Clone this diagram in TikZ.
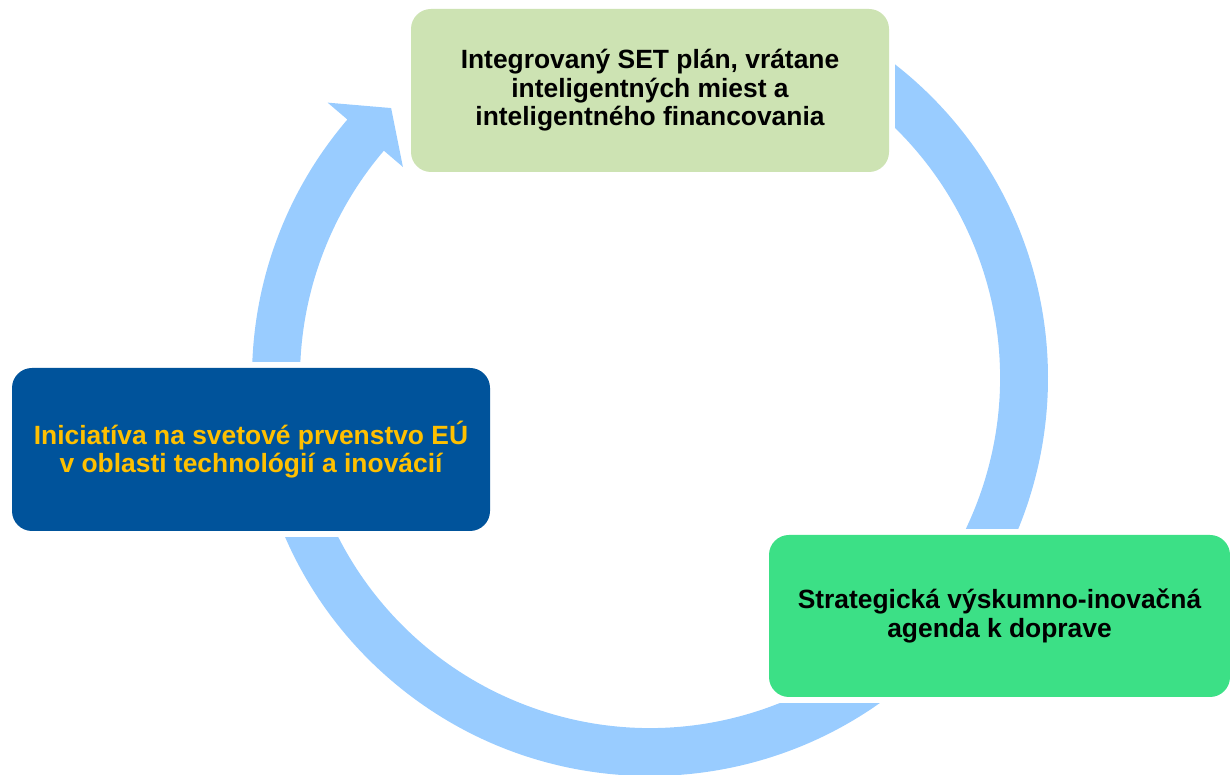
\documentclass[tikz,border=0pt]{standalone}
\usepackage{fontspec}
\setmainfont{Liberation Sans}
\usetikzlibrary{backgrounds,calc}
\definecolor{ringblue}{HTML}{99CCFF}
\definecolor{lightgreen}{HTML}{CDE3B3}
\definecolor{eublue}{HTML}{00539B}
\definecolor{euyellow}{HTML}{FFC000}
\definecolor{brightgreen}{HTML}{3CE086}
\begin{document}
\begin{tikzpicture}[x=1pt,y=1pt,
  box/.style={rectangle, rounded corners=20pt, inner sep=0pt, align=center,
    font=\fontsize{26.4}{28.5}\selectfont\bfseries},
  mask/.style={fill=white}]
\useasboundingbox (0,0) rectangle (1230,775);
\node[box, fill=lightgreen, text=black, minimum width=478pt, minimum height=163pt] (top) at (650,684.5)
  {Integrovaný SET plán, vrátane\\inteligentných miest a\\inteligentného financovania};
\node[box, fill=eublue, text=euyellow, minimum width=478pt, minimum height=163pt] (left) at (251,325.5)
  {Iniciatíva na svetové prvenstvo EÚ\\v oblasti technológií a inovácií};
\node[box, fill=brightgreen, text=black, minimum width=461pt, minimum height=162pt] (br) at (999.5,159)
  {Strategická výskumno-inovačná\\agenda k doprave};
\coordinate (C) at (650,397);
\begin{pgfonlayer}{background}
\fill[ringblue] ($(C)+(139.5:398)$) arc[start angle=139.5, end angle=430, radius=398]
  -- ($(C)+(430:350)$) arc[start angle=430, end angle=139.5, radius=350]
  -- ($(C)+(139.5:325)$) -- ($(C)+(133.8:374)$) -- ($(C)+(139.5:424)$) -- cycle;
\fill[mask] ([shift={(-5.5,-5.5)}]top.south west) rectangle ([shift={(5.5,5.5)}]top.north east);
\fill[mask] ([shift={(-5.5,-5.5)}]left.south west) rectangle ([shift={(5.5,5.5)}]left.north east);
\fill[mask] ([shift={(-5.5,-5.5)}]br.south west) rectangle ([shift={(5.5,5.5)}]br.north east);
\end{pgfonlayer}
\end{tikzpicture}
\end{document}
